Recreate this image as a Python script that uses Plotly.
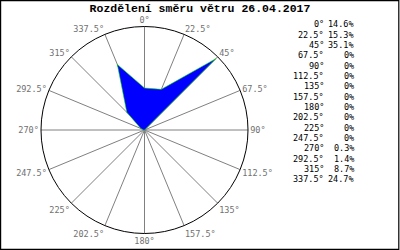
import plotly.graph_objects as go

directions = [0, 22.5, 45, 67.5, 90, 112.5, 135, 157.5, 180, 202.5, 225, 247.5, 270, 292.5, 315, 337.5]
dir_labels = ["0°", "22.5°", "45°", "67.5°", "90°", "112.5°", "135°", "157.5°", "180°",
              "202.5°", "225°", "247.5°", "270°", "292.5°", "315°", "337.5°"]
values = [14.6, 15.3, 35.1, 0, 0, 0, 0, 0, 0, 0, 0, 0, 0.3, 1.4, 8.7, 24.7]
pct_labels = [f"{v:g}%" for v in values]
title_text = "Rozdělení směru větru 26.04.2017"

W, H = 400, 250
cx, cy, R = 144.5, 130, 103.5

fig = go.Figure()
fig.add_trace(go.Scatterpolar(
    r=values + values[:1],
    theta=directions + directions[:1],
    mode="lines",
    fill="toself",
    fillcolor="#0000ff",
    line=dict(color="#00dd00", width=0.6),
    hoverinfo="skip",
))

annotations = []
row0, rowstep = 24.3, 10.33
for i, (lab, pct) in enumerate(zip(dir_labels, pct_labels)):
    y = 1 - (row0 + i * rowstep) / H
    annotations.append(dict(x=326 / W, y=y, xref="paper", yref="paper", text=lab,
                            showarrow=False, xanchor="right", yanchor="middle",
                            font=dict(family="DejaVu Sans Mono", size=8.5, color="#000")))
    annotations.append(dict(x=356 / W, y=y, xref="paper", yref="paper", text=pct,
                            showarrow=False, xanchor="right", yanchor="middle",
                            font=dict(family="DejaVu Sans Mono", size=8.5, color="#000")))

fig.update_layout(
    width=W, height=H,
    margin=dict(l=0, r=0, t=0, b=0),
    paper_bgcolor="white",
    plot_bgcolor="white",
    showlegend=False,
    title=dict(text=f"<b>{title_text}</b>", x=0.5, xanchor="center", y=1 - 8 / H,
               yanchor="middle", font=dict(family="Liberation Mono", size=11.5, color="#000")),
    polar=dict(
        domain=dict(x=[(cx - R) / W, (cx + R) / W], y=[(H - cy - R) / H, (H - cy + R) / H]),
        bgcolor="white",
        radialaxis=dict(visible=False, range=[0, 36], showgrid=False),
        angularaxis=dict(
            rotation=90, direction="clockwise",
            tickmode="array", tickvals=directions, ticktext=dir_labels,
            showgrid=True, gridcolor="#808080", gridwidth=1,
            showline=True, linecolor="#000", linewidth=1,
            ticks="", tickfont=dict(family="DejaVu Sans Mono", size=8.5, color="#707070"),
        ),
    ),
    annotations=annotations,
    shapes=[dict(type="rect", xref="paper", yref="paper", x0=0.6 / W, y0=0.6 / H,
                 x1=1 - 1.2 / W, y1=1 - 0.6 / H, line=dict(color="#000", width=1.2))],
)

fig.write_html("out.html")
